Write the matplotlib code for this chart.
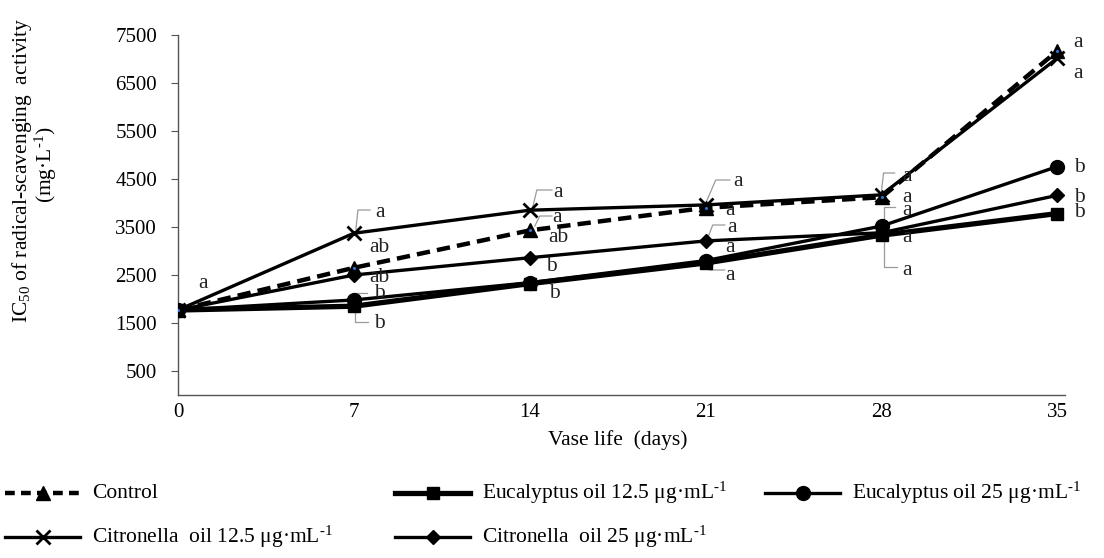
import matplotlib
matplotlib.use("Agg")
import matplotlib.pyplot as plt
from matplotlib.lines import Line2D

plt.rcParams["font.family"] = ["Liberation Serif", "DejaVu Serif"]
plt.rcParams["mathtext.fontset"] = "custom"
plt.rcParams["mathtext.rm"] = "Liberation Serif"
plt.rcParams["mathtext.it"] = "Liberation Serif:italic"
plt.rcParams["mathtext.default"] = "rm"

# Vase life (days) and IC50 values (mg/L)
days = [0, 7, 14, 21, 28, 35]
control = [1770, 2650, 3430, 3900, 4120, 7170]
euc_125 = [1770, 1850, 2320, 2750, 3330, 3780]
euc_25 = [1770, 1980, 2340, 2800, 3520, 4760]
cit_125 = [1770, 3370, 3850, 3960, 4170, 7020]
cit_25 = [1770, 2500, 2860, 3210, 3380, 4160]

y_ticks = [500, 1500, 2500, 3500, 4500, 5500, 6500, 7500]

unit = r"μg·mL$^{\text{-}1}$"
series_names = ["Control",
                "Eucalyptus oil 12.5 " + unit,
                "Eucalyptus oil 25 " + unit,
                "Citronella  oil 12.5 " + unit,
                "Citronella  oil 25 " + unit]

# Significance letters: (day position, y position, letter)
letters = [
    (0.99, 2333, "a"),
    (8.03, 3792, "a"), (8.03, 3083, "ab"), (8.03, 2458, "ab"),
    (8.03, 2125, "b"), (8.03, 1500, "b"),
    (15.12, 4229, "a"), (15.08, 3688, "a"), (15.12, 3271, "ab"),
    (14.88, 2667, "b"), (15.0, 2125, "b"),
    (22.28, 4438, "a"), (21.96, 3854, "a"), (22.04, 3500, "a"),
    (21.96, 3063, "a"), (21.96, 2500, "a"),
    (29.0, 4542, "a"), (29.0, 4125, "a"), (29.0, 3854, "a"),
    (29.0, 3271, "a"), (29.0, 2604, "a"),
    (35.8, 7354, "a"), (35.8, 6708, "a"),
    (35.88, 4750, "b"), (35.88, 4125, "b"), (35.88, 3792, "b"),
]

# Grey leader lines connecting letters to points
leaders = [
    ([7.08, 7.16, 7.64], [3458, 3854, 3854]),
    ([7.04, 7.04, 7.56], [1854, 1521, 1521]),
    ([7.04, 7.04, 7.52], [1917, 2125, 2125]),
    ([14.12, 14.28, 14.88], [3917, 4271, 4271]),
    ([14.2, 14.4, 14.88], [3521, 3729, 3729]),
    ([21.0, 21.4, 21.96], [3995, 4479, 4479]),
    ([21.08, 21.28, 21.76], [3271, 3542, 3542]),
    ([21.08, 21.16, 21.76], [2667, 2604, 2604]),
    ([28.0, 28.08, 28.52], [4271, 4625, 4625]),
    ([28.52, 28.08, 28.08, 28.6], [3917, 3917, 2667, 2667]),
]

fig = plt.figure(figsize=(11.04, 5.58), dpi=100)
ax = fig.add_axes([178 / 1104, 1 - 395 / 558, 887 / 1104, 360 / 558])

lw = 2.4
ax.plot(days, euc_125, color="black", lw=3.8, marker="s", ms=9,
        label=series_names[1], zorder=3)
ax.plot(days, euc_25, color="black", lw=lw, marker="o", ms=10,
        label=series_names[2], zorder=3)
ax.plot(days, cit_25, color="black", lw=lw, marker="D", ms=7.5,
        label=series_names[4], zorder=3)
ax.plot(days, cit_125, color="black", lw=lw, marker="x", ms=10, mew=2,
        label=series_names[3], zorder=3)
ax.plot(days, control, color="black", lw=3.2, ls=(0, (3, 1.6)),
        marker="^", ms=10, label=series_names[0], zorder=4)
ax.plot(days, control, ls="none", marker=".", ms=2.5, color="#2f6fd0", zorder=5)

for xs, ys in leaders:
    ax.plot(xs, ys, color="#9a9a9a", lw=0.9, zorder=2)

for x, y, t in letters:
    ax.text(x, y, t, fontsize=15.5, ha="center", va="center", color="#222222",
            zorder=6)

ax.set_xlim(0, 35.3)
ax.set_ylim(0, 7500)
ax.set_xticks(days)
ax.set_yticks(y_ticks)
ax.tick_params(axis="both", labelsize=15, color="#555555", length=5)
ax.tick_params(axis="y", pad=10)
ax.tick_params(axis="x", pad=6, length=0)
for side in ["top", "right"]:
    ax.spines[side].set_visible(False)
for side in ["left", "bottom"]:
    ax.spines[side].set_color("#555555")
    ax.spines[side].set_linewidth(1.0)

fig.text(618 / 1104, 1 - 440 / 558, "Vase life  (days)", fontsize=15.5,
         ha="center", va="center")
fig.text(22 / 1104, 1 - 170 / 558, "IC$_{50}$ of radical-scavenging  activity",
         fontsize=15.5, rotation=90, ha="center", va="center")
fig.text(46 / 1104, 1 - 165 / 558, "(mg·L$^{\\text{-}1}$)",
         fontsize=15.5, rotation=90, ha="center", va="center")

# Legend drawn as rows of sample lines and names
legend_items = [
    (5, 493, series_names[0], dict(ls=(0, (2.2, 1.4)), lw=3.2, marker="^", ms=10)),
    (395, 493, series_names[1], dict(ls="-", lw=3.8, marker="s", ms=9)),
    (765, 493, series_names[2], dict(ls="-", lw=2.4, marker="o", ms=10)),
    (5, 537, series_names[3], dict(ls="-", lw=2.4, marker="x", ms=10, mew=2)),
    (395, 537, series_names[4], dict(ls="-", lw=2.4, marker="D", ms=7.5)),
]
for x0, y0, name, style in legend_items:
    yf = 1 - y0 / 558
    fig.add_artist(Line2D([x0 / 1104, (x0 + 75) / 1104], [yf, yf],
                          transform=fig.transFigure, color="black",
                          **{k: v for k, v in style.items()
                             if k not in ("marker", "ms", "mew")}))
    fig.add_artist(Line2D([(x0 + 37.5) / 1104], [yf], transform=fig.transFigure,
                          color="black", ls="none", marker=style["marker"],
                          ms=style["ms"], mew=style.get("mew", 1)))
    fig.text((x0 + 87) / 1104, yf, name, fontsize=15.5, ha="left", va="center")

fig.savefig("out.png", dpi=100, facecolor="white")
